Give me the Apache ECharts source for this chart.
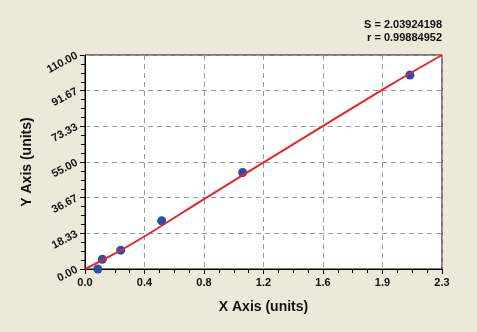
<!DOCTYPE html>
<html>
<head>
<meta charset="utf-8">
<script src="https://cdn.jsdelivr.net/npm/echarts@6/dist/echarts.min.js"></script>
<style>
html,body{margin:0;padding:0;background:#ece9d8;}
#chart{width:477px;height:332px;}
</style>
</head>
<body>
<div id="chart"></div>
<script>
// Data
var pointX = [0.083, 0.113, 0.233, 0.50, 1.028, 2.119];
var pointY = [0, 5, 9.7, 24.8, 49.6, 99.7];
var fitX = [0, 0.23, 0.424, 0.771, 1.272, 1.989, 2.328];
var fitY = [0, 9.5, 18.5, 35.7, 59.9, 94.5, 110];
var xTickLabels = ['0.0', '0.4', '0.8', '1.2', '1.6', '1.9', '2.3'];
var yTickLabels = ['0.00', '18.33', '36.67', '55.00', '73.33', '91.67', '110.00'];
var statLines = ['S = 2.03924198', 'r = 0.99884952'];

var xInterval = 0.388;
var xMax = xInterval * (xTickLabels.length - 1);
var yMax = 110;
var yInterval = yMax / (yTickLabels.length - 1);

function zip(a, b) { return a.map(function (v, i) { return [v, b[i]]; }); }

var chart = echarts.init(document.getElementById('chart'), null, {renderer: 'canvas'});
var fontFam = '"Liberation Sans", Arial, sans-serif';
chart.setOption({
  backgroundColor: '#ece9d8',
  animation: false,
  grid: {left: 85, right: 35, top: 55, bottom: 63, show: true, backgroundColor: '#ffffff', borderColor: '#000', borderWidth: 1},
  graphic: statLines.map(function (t, i) {
    return {
      type: 'text', right: 35, top: 19 + i * 13,
      style: {text: t, fill: '#111', font: 'bold 11px "Liberation Sans", Arial, sans-serif', textAlign: 'right'}
    };
  }),
  xAxis: {
    type: 'value', min: 0, max: xMax, interval: xInterval,
    name: 'X Axis (units)', nameLocation: 'middle', nameGap: 31,
    nameTextStyle: {fontFamily: fontFam, fontSize: 14, fontWeight: 'bold', color: '#111'},
    axisLine: {show: true, lineStyle: {color: '#000', width: 1}},
    axisTick: {show: true, inside: false, length: 5, lineStyle: {color: '#000'}},
    minorTick: {show: true, splitNumber: 4, length: 4, lineStyle: {color: '#000'}},
    axisLabel: {
      fontFamily: fontFam, fontSize: 11, fontWeight: 'bold', color: '#111', margin: 8,
      formatter: function (v) { return xTickLabels[Math.round(v / xInterval)] || ''; }
    },
    splitLine: {show: true, lineStyle: {color: '#9a9a9a', type: [5, 4], width: 1}}
  },
  yAxis: {
    type: 'value', min: 0, max: yMax, interval: yInterval,
    name: 'Y Axis (units)', nameLocation: 'middle', nameGap: 51, nameRotate: 90,
    nameTextStyle: {fontFamily: fontFam, fontSize: 14, fontWeight: 'bold', color: '#111'},
    axisLine: {show: true, lineStyle: {color: '#000', width: 1}},
    axisTick: {show: true, inside: false, length: 5, lineStyle: {color: '#000'}},
    minorTick: {show: true, splitNumber: 4, length: 4, lineStyle: {color: '#000'}},
    axisLabel: {
      fontFamily: fontFam, fontSize: 11, fontWeight: 'bold', color: '#111', margin: 8, rotate: 28,
      formatter: function (v) { return yTickLabels[Math.round(v / yInterval)] || ''; }
    },
    splitLine: {show: true, lineStyle: {color: '#9a9a9a', type: [5, 4], width: 1}}
  },
  series: [
    {
      type: 'line', data: zip(fitX, fitY), smooth: 0.3, showSymbol: false, clip: true,
      lineStyle: {color: '#e3262b', width: 2}, z: 3
    },
    {
      type: 'scatter', data: zip(pointX, pointY), symbolSize: 9,
      itemStyle: {color: '#2d4ea8', opacity: 1}, z: 2
    }
  ]
});
</script>
</body>
</html>
